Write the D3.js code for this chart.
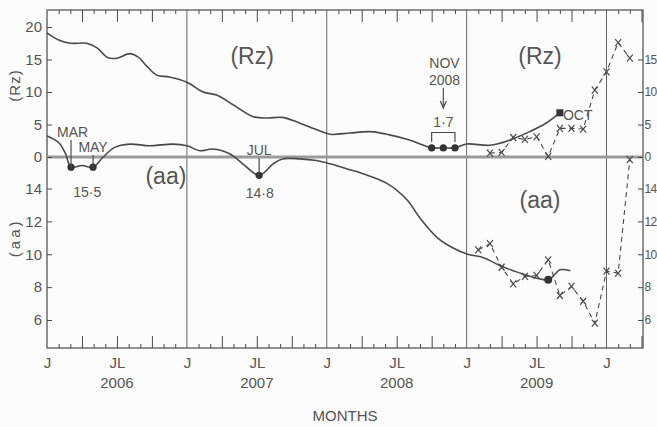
<!DOCTYPE html>
<html>
<head>
<meta charset="utf-8">
<script src="https://cdn.jsdelivr.net/npm/d3@7"></script>
<style>
  body { margin: 0; background: #fcfcfc; }
  svg { display: block; }
  text { font-family: "Liberation Sans", Arial, sans-serif; fill: #555; }
</style>
</head>
<body>
<div id="chart"></div>
<script>
// months counted from Jan 2006 (0 = J 2006, 12 = J 2007, ...)
const rzSmoothMonths = [0, 1, 2, 3.4, 4.3, 5.2, 6, 7.1, 7.8, 8.6, 9.4, 10.5, 12, 13.4, 14.6, 16, 17.7, 18.9, 20.2, 21.7, 23, 24.3, 26, 27.7, 29.4, 31.1, 32.2, 33, 34, 35, 36, 38, 39.7, 41.4, 42.8, 44]
const rzSmooth = [19.1, 18.0, 17.5, 17.5, 16.8, 15.3, 15.2, 15.9, 15.4, 13.9, 12.6, 12.3, 11.5, 10.0, 9.5, 8.0, 6.2, 6.0, 6.1, 5.2, 4.3, 3.5, 3.7, 3.9, 3.4, 2.6, 1.9, 1.4, 1.4, 1.4, 2.0, 1.8, 2.6, 3.9, 5.2, 6.8]

const aaSmoothMonths = [0, 1, 1.6, 2.06, 3, 3.95, 4.8, 5.8, 7.1, 8.8, 10.8, 12, 13.1, 14.2, 15.7, 16.8, 18.2, 19.4, 20.2, 21.7, 23.1, 24.3, 25.7, 27.1, 29.2, 30.9, 32, 33.5, 34.8, 36.1, 37.4, 38.9, 40, 40.8, 43, 43.6, 44, 44.9]
const aaSmooth = [17.2, 16.8, 16.1, 15.3, 15.4, 15.3, 15.9, 16.5, 16.7, 16.6, 16.7, 16.6, 16.3, 16.4, 16.1, 15.5, 14.8, 15.5, 15.8, 15.8, 15.7, 15.5, 15.2, 14.9, 14.3, 13.3, 12.2, 11.0, 10.4, 10.0, 9.8, 9.3, 9.0, 8.8, 8.45, 8.8, 9.05, 9.0]

// monthly values 2009-2010 (crosses)
const rzMonthlyMonths = [38, 39, 40, 41, 42, 43, 44, 45, 46, 47, 48, 49, 50]
const rzMonthly = [0.6, 0.7, 3.0, 2.7, 3.1, 0.1, 4.4, 4.4, 4.3, 10.3, 13.1, 17.6, 15.2]
const aaMonthlyMonths = [37, 38, 39, 40, 41, 42, 43, 44, 45, 46, 47, 48, 49, 50]
const aaMonthly = [10.27, 10.64, 9.21, 8.2, 8.65, 8.71, 9.66, 7.49, 8.04, 7.14, 5.81, 8.97, 8.85, 15.75]

// marked minima
const rzMinMonths = [33, 34, 35]
const rzMinValues = [1.4, 1.4, 1.4]
const aaMinMonths = [2.06, 3.95, 18.2]
const aaMinValues = [15.3, 15.3, 14.8]
const rzOctMonth = 44, rzOctValue = 6.8
const aaEndMonth = 43, aaEndValue = 8.45

const rzTicksLeft = [0, 5, 10, 15, 20]
const rzTicksRight = [0, 5, 10, 15]
const aaTicks = [14, 12, 10, 8, 6]
const years = [2006, 2007, 2008, 2009]

const W = 657, H = 427
const LEFT = 47, RIGHT = 643, TOP = 10, BOTTOM = 348
const INK = "#4a4a4a"

const svg = d3.select("#chart").append("svg")
  .attr("width", W).attr("height", H)

const x = d3.scaleLinear().domain([0, 48]).range([LEFT, 606.5])
const yRz = d3.scaleLinear().domain([0, 20]).range([157, 27])
const yAa = d3.scaleLinear().domain([14, 6]).range([188.5, 320])

const allMonths = d3.range(0, 52)
const longMonths = allMonths.filter(m => m % 3 === 0 && m % 12 !== 0)
const shortMonths = allMonths.filter(m => m % 3 !== 0)
const janMonths = allMonths.filter(m => m % 12 === 0 && m > 0)

function styleAxis(g) {
  g.select(".domain").remove()
  g.selectAll("line").attr("stroke", INK).attr("stroke-width", 1)
  g.selectAll("text").attr("font-size", 15).attr("fill", "#555")
}

// month ticks, bottom and top, pointing inwards
svg.append("g").attr("transform", `translate(0,${BOTTOM})`)
  .call(d3.axisBottom(x).tickValues(longMonths).tickSize(-12).tickFormat(""))
  .call(styleAxis)
svg.append("g").attr("transform", `translate(0,${BOTTOM})`)
  .call(d3.axisBottom(x).tickValues(shortMonths).tickSize(-4).tickFormat(""))
  .call(styleAxis)
svg.append("g").attr("transform", `translate(0,${TOP})`)
  .call(d3.axisTop(x).tickValues(longMonths).tickSize(-12).tickFormat(""))
  .call(styleAxis)
svg.append("g").attr("transform", `translate(0,${TOP})`)
  .call(d3.axisTop(x).tickValues(shortMonths).tickSize(-4).tickFormat(""))
  .call(styleAxis)

// J / JL labels
svg.append("g").attr("transform", `translate(0,${BOTTOM})`)
  .call(d3.axisBottom(x).tickValues(d3.range(0, 49, 6)).tickSize(0).tickPadding(9)
    .tickFormat(m => m % 12 === 0 ? "J" : "JL"))
  .call(styleAxis)

svg.append("g").selectAll("text").data(years).join("text")
  .attr("x", (d, i) => x(i * 12 + 6))
  .attr("y", 388)
  .attr("text-anchor", "middle")
  .attr("font-size", 15)
  .text(d => d)

svg.append("text")
  .attr("x", (LEFT + RIGHT) / 2).attr("y", 421)
  .attr("text-anchor", "middle").attr("font-size", 15)
  .text("MONTHS")

// year separators
svg.append("g").selectAll("line").data(janMonths).join("line")
  .attr("x1", d => x(d)).attr("x2", d => x(d))
  .attr("y1", TOP).attr("y2", BOTTOM)
  .attr("stroke", "#666").attr("stroke-width", 1)

// frame
svg.append("rect")
  .attr("x", LEFT).attr("y", TOP)
  .attr("width", RIGHT - LEFT).attr("height", BOTTOM - TOP)
  .attr("fill", "none").attr("stroke", INK).attr("stroke-width", 1.2)

// zero line shared by both panels
svg.append("line")
  .attr("x1", LEFT).attr("x2", RIGHT)
  .attr("y1", yRz(0)).attr("y2", yRz(0))
  .attr("stroke", "#9a9a9a").attr("stroke-width", 3)

// y axes
svg.append("g").attr("transform", `translate(${LEFT},0)`)
  .call(d3.axisLeft(yRz).tickValues(rzTicksLeft).tickSize(-5).tickPadding(5))
  .call(styleAxis)
svg.append("g").attr("transform", `translate(${LEFT},0)`)
  .call(d3.axisLeft(yAa).tickValues(aaTicks).tickSize(-5).tickPadding(5))
  .call(styleAxis)

// right side labels are squeezed against the page edge
function styleRight(g) {
  styleAxis(g)
  g.selectAll("text").attr("font-size", 12).attr("letter-spacing", -0.6)
}
svg.append("g").attr("transform", `translate(${RIGHT},0)`)
  .call(d3.axisRight(yRz).tickValues(rzTicksRight).tickSize(-5).tickPadding(1.5))
  .call(styleRight)
svg.append("g").attr("transform", `translate(${RIGHT},0)`)
  .call(d3.axisRight(yAa).tickValues(aaTicks).tickSize(-5).tickPadding(1.5))
  .call(styleRight)

svg.append("text")
  .attr("transform", `translate(20,${yRz(11)}) rotate(-90)`)
  .attr("text-anchor", "middle").attr("font-size", 15).attr("letter-spacing", 1)
  .text("(Rz)")
svg.append("text")
  .attr("transform", `translate(20,${yAa(11)}) rotate(-90)`)
  .attr("text-anchor", "middle").attr("font-size", 15).attr("letter-spacing", 3)
  .text("(aa)")

// smoothed curves
const rzLine = d3.line().x(i => x(rzSmoothMonths[i])).y(i => yRz(rzSmooth[i])).curve(d3.curveCatmullRom)
const aaLine = d3.line().x(i => x(aaSmoothMonths[i])).y(i => yAa(aaSmooth[i])).curve(d3.curveCatmullRom)

svg.append("path").attr("d", rzLine(d3.range(rzSmooth.length)))
  .attr("fill", "none").attr("stroke", INK).attr("stroke-width", 1.6)
svg.append("path").attr("d", aaLine(d3.range(aaSmooth.length)))
  .attr("fill", "none").attr("stroke", INK).attr("stroke-width", 1.6)

// monthly values, dashed with crosses
const rzMonthLine = d3.line().x(i => x(rzMonthlyMonths[i])).y(i => yRz(rzMonthly[i]))
const aaMonthLine = d3.line().x(i => x(aaMonthlyMonths[i])).y(i => yAa(aaMonthly[i]))

svg.append("path").attr("d", rzMonthLine(d3.range(rzMonthly.length)))
  .attr("fill", "none").attr("stroke", INK).attr("stroke-width", 1.1)
  .attr("stroke-dasharray", "5,4")
svg.append("path").attr("d", aaMonthLine(d3.range(aaMonthly.length)))
  .attr("fill", "none").attr("stroke", INK).attr("stroke-width", 1.1)
  .attr("stroke-dasharray", "5,4")

const cross = "M-3,-3.5L3,3.5M3,-3.5L-3,3.5"
svg.append("g").selectAll("path").data(rzMonthly).join("path")
  .attr("transform", (d, i) => `translate(${x(rzMonthlyMonths[i])},${yRz(d)})`)
  .attr("d", cross).attr("stroke", INK).attr("stroke-width", 1.2)
svg.append("g").selectAll("path").data(aaMonthly).join("path")
  .attr("transform", (d, i) => `translate(${x(aaMonthlyMonths[i])},${yAa(d)})`)
  .attr("d", cross).attr("stroke", INK).attr("stroke-width", 1.2)

// minima dots
svg.append("g").selectAll("circle").data(rzMinValues).join("circle")
  .attr("cx", (d, i) => x(rzMinMonths[i])).attr("cy", d => yRz(d))
  .attr("r", 3.6).attr("fill", "#333")
svg.append("g").selectAll("circle").data(aaMinValues).join("circle")
  .attr("cx", (d, i) => x(aaMinMonths[i])).attr("cy", d => yAa(d))
  .attr("r", 3.6).attr("fill", "#333")
svg.append("circle")
  .attr("cx", x(aaEndMonth)).attr("cy", yAa(aaEndValue))
  .attr("r", 4).attr("fill", "#333")
svg.append("rect")
  .attr("x", x(rzOctMonth) - 3.5).attr("y", yRz(rzOctValue) - 3.5)
  .attr("width", 7).attr("height", 7).attr("fill", "#333")

// annotations
const ann = svg.append("g")
function label(txt, px, py, size) {
  ann.append("text").attr("x", px).attr("y", py)
    .attr("text-anchor", "middle").attr("font-size", size || 15).text(txt)
}
function stem(px, y1, y2) {
  ann.append("line").attr("x1", px).attr("x2", px).attr("y1", y1).attr("y2", y2)
    .attr("stroke", INK).attr("stroke-width", 1.2)
}

label("(Rz)", x(17.6), 64, 23)
label("(Rz)", x(42.3), 64, 23)
label("(aa)", x(10.2), 184, 23)
label("(aa)", x(42.3), 208, 23)

label("MAR", x(2.2), 137, 14)
stem(x(aaMinMonths[0]), 140, yAa(aaMinValues[0]))
label("MAY", x(3.95), 152, 14)
stem(x(aaMinMonths[1]), 155, yAa(aaMinValues[1]))
label("15·5", x(3.45), 197, 14)
label("JUL", x(18.2), 155, 14)
stem(x(aaMinMonths[2]), 158, yAa(aaMinValues[2]))
label("14·8", x(18.25), 198, 14)

label("NOV", x(34.1), 68, 14)
label("2008", x(34.1), 85, 14)
stem(x(34), 88, 106)
ann.append("path")
  .attr("d", `M${x(34) - 3},${101}L${x(34)},${108}L${x(34) + 3},${101}`)
  .attr("fill", "none").attr("stroke", INK).attr("stroke-width", 1.2)
label("1·7", x(34), 127, 14)
ann.append("path")
  .attr("d", `M${x(33)},${yRz(1.4) - 6}V${132.5}H${x(35)}V${yRz(1.4) - 6}`)
  .attr("fill", "none").attr("stroke", INK).attr("stroke-width", 1.2)

ann.append("text").attr("x", x(rzOctMonth) + 3).attr("y", 120)
  .attr("font-size", 14).text("OCT")
</script>
</body>
</html>
